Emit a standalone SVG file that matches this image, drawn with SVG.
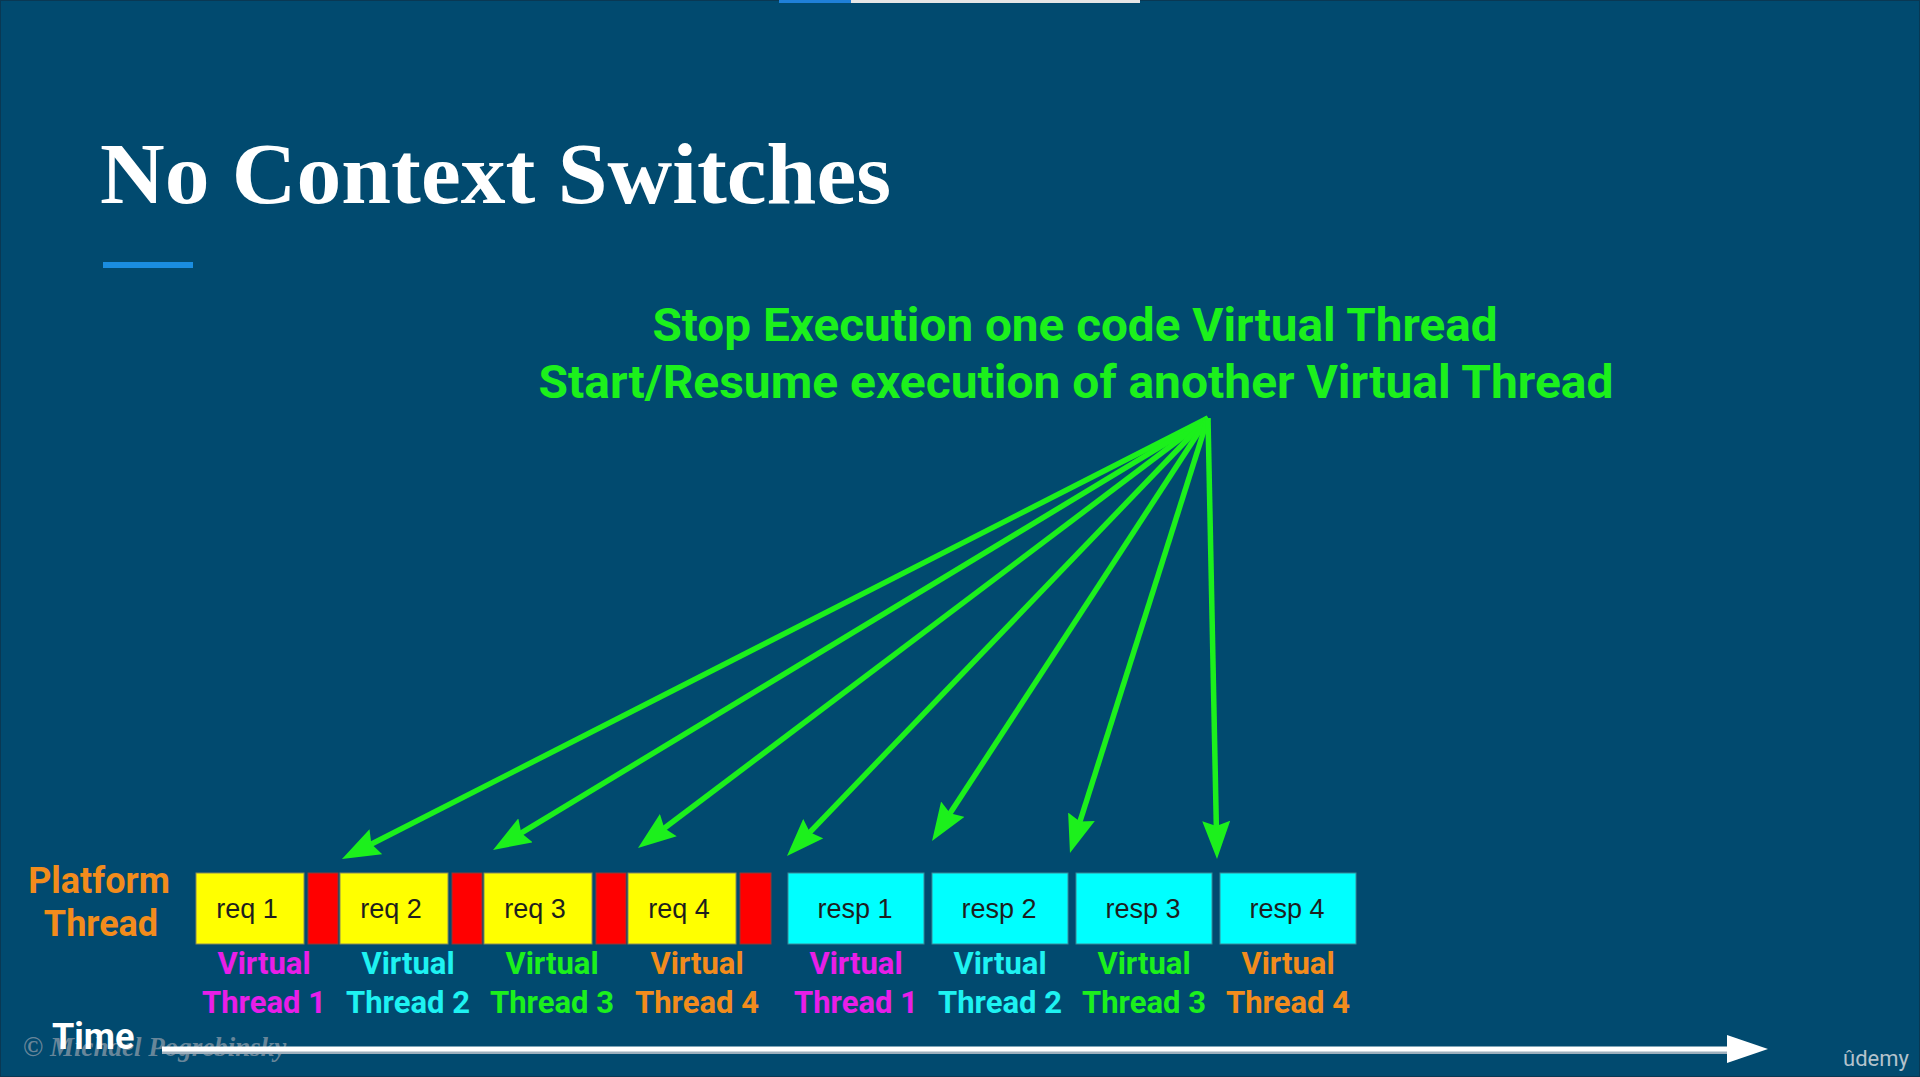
<svg xmlns="http://www.w3.org/2000/svg" width="1920" height="1077" viewBox="0 0 1920 1077">
  <defs>
    <style>
      .bg { fill: #014a6f; }
      .title { font-family: "Liberation Serif", "DejaVu Serif", serif; font-weight: bold; font-size: 86px; fill: #ffffff; }
      .note { font-family: Roboto, "Liberation Sans", sans-serif; font-weight: bold; font-size: 46px; fill: #1cf01c; text-anchor: middle; }
      .box-text { font-family: "Liberation Sans", Arial, sans-serif; font-size: 27px; fill: #1e1e1e; text-anchor: middle; }
      .lbl { font-family: Roboto, "Liberation Sans", sans-serif; font-weight: bold; font-size: 31px; text-anchor: middle; }
      .side { font-family: Roboto, "Liberation Sans", sans-serif; font-weight: bold; font-size: 36px; fill: #f28c1c; text-anchor: middle; }
      .req { fill: #ffff00; stroke: #8a8a5a; stroke-width: 1; }
      .sw { fill: #ff0000; stroke: #8a3a3a; stroke-width: 1; }
      .resp { fill: #00ffff; stroke: #3a8a9a; stroke-width: 1; }
      .c1 { fill: #e81ee8; }
      .c2 { fill: #1ef2f2; }
      .c3 { fill: #1cf01c; }
      .c4 { fill: #f28c1c; }
      .link { stroke: #1cf01c; stroke-width: 5.5; fill: none; marker-end: url(#head); }
    </style>
    <marker id="head" viewBox="0 0 38 28" refX="28" refY="14" markerWidth="38" markerHeight="28" markerUnits="userSpaceOnUse" orient="auto">
      <path d="M0,0 L38,14 L0,28 L5,14 Z" fill="#1cf01c"/>
    </marker>
  </defs>

  <!-- slide background and frame -->
  <rect class="bg" x="0" y="0" width="1920" height="1077"/>
  <rect x="0.5" y="0.5" width="1919" height="1076" fill="none" stroke="#0a3853" stroke-width="1"/>

  <!-- progress strip at the top edge -->
  <rect x="779" y="0" width="72" height="3" fill="#1f80d8"/>
  <rect x="851" y="0" width="289" height="3" fill="#e6e6e6"/>

  <!-- heading -->
  <text class="title" x="100" y="203" textLength="791" lengthAdjust="spacingAndGlyphs">No Context Switches</text>
  <rect x="103" y="262" width="90" height="6" fill="#1a8de0"/>

  <!-- explanation -->
  <g id="explanation">
    <text class="note" x="1075" y="341" textLength="845" lengthAdjust="spacingAndGlyphs">Stop Execution one code Virtual Thread</text>
    <text class="note" x="1076" y="398" textLength="1075" lengthAdjust="spacingAndGlyphs">Start/Resume execution of another Virtual Thread</text>
  </g>

  <!-- connectors from the explanation down to each switch point -->
  <g id="connectors">
    <line class="link" x1="1208" y1="418" x2="350.9" y2="854.5"/>
    <line class="link" x1="1208" y1="418" x2="501.6" y2="844.8"/>
    <line class="link" x1="1208" y1="418" x2="646.0" y2="842.0"/>
    <line class="link" x1="1208" y1="418" x2="793.9" y2="848.8"/>
    <line class="link" x1="1208" y1="418" x2="937.5" y2="832.6"/>
    <line class="link" x1="1208" y1="418" x2="1073.0" y2="843.5"/>
    <line class="link" x1="1208" y1="418" x2="1216.8" y2="849.0"/>
  </g>

  <!-- platform thread label -->
  <g id="platform-thread">
    <text class="side" x="99" y="893">Platform</text>
    <text class="side" x="101" y="936">Thread</text>
  </g>

  <!-- request phase -->
  <g id="req1">
    <rect class="req" x="196" y="873" width="108" height="71"/>
    <text class="box-text" x="247" y="918">req 1</text>
  </g>
  <g id="switch1"><rect class="sw" x="308" y="873" width="30" height="71"/></g>
  <g id="req2">
    <rect class="req" x="340" y="873" width="108" height="71"/>
    <text class="box-text" x="391" y="918">req 2</text>
  </g>
  <g id="switch2"><rect class="sw" x="452" y="873" width="30" height="71"/></g>
  <g id="req3">
    <rect class="req" x="484" y="873" width="108" height="71"/>
    <text class="box-text" x="535" y="918">req 3</text>
  </g>
  <g id="switch3"><rect class="sw" x="596" y="873" width="30" height="71"/></g>
  <g id="req4">
    <rect class="req" x="628" y="873" width="108" height="71"/>
    <text class="box-text" x="679" y="918">req 4</text>
  </g>
  <g id="switch4"><rect class="sw" x="740" y="873" width="31" height="71"/></g>

  <!-- response phase -->
  <g id="resp1">
    <rect class="resp" x="788" y="873" width="136" height="71"/>
    <text class="box-text" x="855" y="918">resp 1</text>
  </g>
  <g id="resp2">
    <rect class="resp" x="932" y="873" width="136" height="71"/>
    <text class="box-text" x="999" y="918">resp 2</text>
  </g>
  <g id="resp3">
    <rect class="resp" x="1076" y="873" width="136" height="71"/>
    <text class="box-text" x="1143" y="918">resp 3</text>
  </g>
  <g id="resp4">
    <rect class="resp" x="1220" y="873" width="136" height="71"/>
    <text class="box-text" x="1287" y="918">resp 4</text>
  </g>

  <!-- virtual thread owners -->
  <g id="owner-labels">
    <text class="lbl c1" x="264" y="974">Virtual</text>
    <text class="lbl c1" x="264" y="1013">Thread 1</text>
    <text class="lbl c2" x="408" y="974">Virtual</text>
    <text class="lbl c2" x="408" y="1013">Thread 2</text>
    <text class="lbl c3" x="552" y="974">Virtual</text>
    <text class="lbl c3" x="552" y="1013">Thread 3</text>
    <text class="lbl c4" x="697" y="974">Virtual</text>
    <text class="lbl c4" x="697" y="1013">Thread 4</text>
    <text class="lbl c1" x="856" y="974">Virtual</text>
    <text class="lbl c1" x="856" y="1013">Thread 1</text>
    <text class="lbl c2" x="1000" y="974">Virtual</text>
    <text class="lbl c2" x="1000" y="1013">Thread 2</text>
    <text class="lbl c3" x="1144" y="974">Virtual</text>
    <text class="lbl c3" x="1144" y="1013">Thread 3</text>
    <text class="lbl c4" x="1288" y="974">Virtual</text>
    <text class="lbl c4" x="1288" y="1013">Thread 4</text>
  </g>

  <!-- author mark -->
  <text x="23" y="1056" font-family="'Liberation Serif', serif" font-style="italic" font-weight="bold" font-size="27" fill="#8b9aa8" fill-opacity="0.75">© Michael Pogrebinsky</text>

  <!-- time axis -->
  <g id="time-axis">
    <line x1="162" y1="1051" x2="1732" y2="1051" stroke="#9fb0bd" stroke-width="6"/>
    <line x1="162" y1="1049" x2="1732" y2="1049" stroke="#ffffff" stroke-width="5"/>
    <polygon points="1727,1035 1768,1049 1727,1063" fill="#ffffff"/>
    <text x="52" y="1049" font-family="Roboto, 'Liberation Sans', sans-serif" font-weight="bold" font-size="36" fill="#ffffff">Time</text>
  </g>

  <!-- corner logo -->
  <text x="1843" y="1066" font-family="Roboto, 'Liberation Sans', sans-serif" font-size="22" fill="#b4c2cc">ûdemy</text>
</svg>
